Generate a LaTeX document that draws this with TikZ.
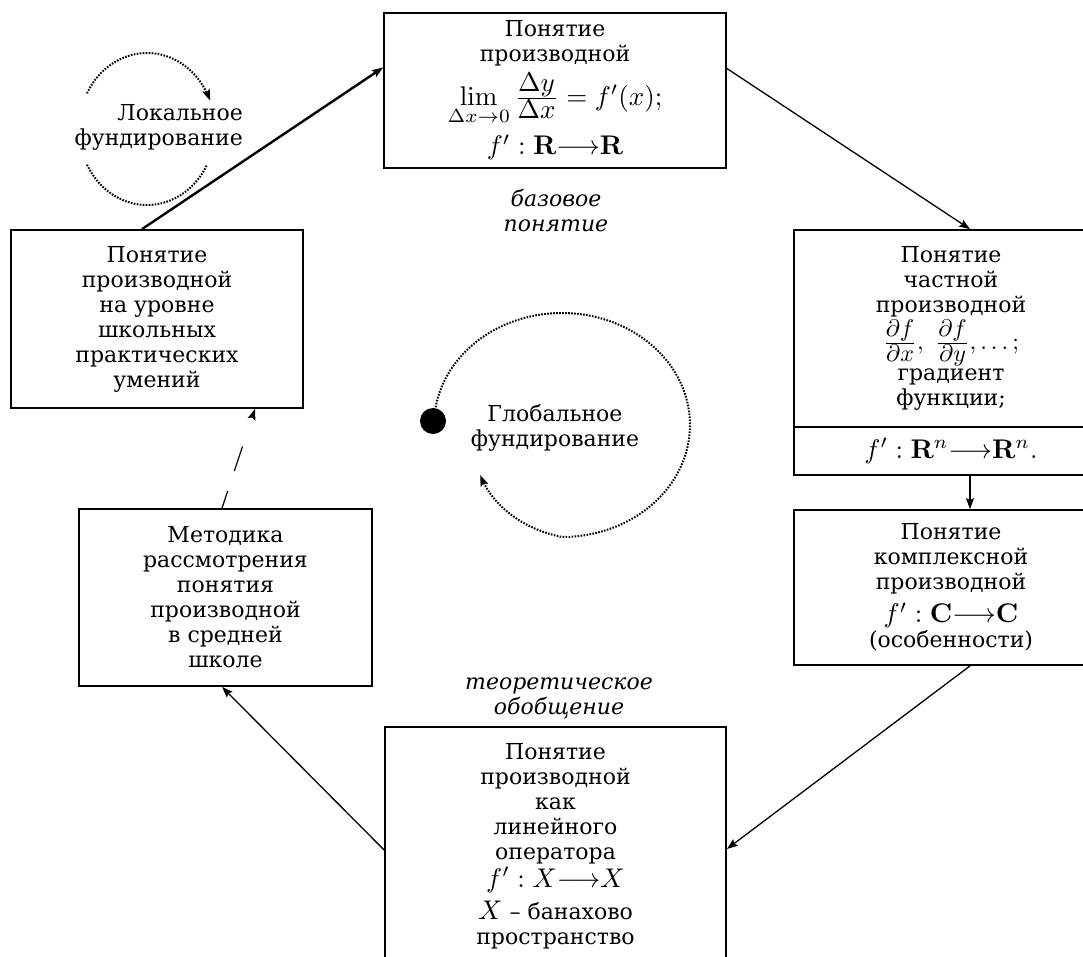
\RequirePackage{fix-cm}
\documentclass[tikz,border=0pt]{standalone}
\usepackage{amsmath}
\usepackage{graphicx}
\usepackage[no-math]{fontspec}
\setmainfont{DejaVu Serif}
\usetikzlibrary{arrows.meta}
\newcommand{\boxfont}{\fontsize{22}{25}\selectfont}
\newcommand{\mth}[2][2.7]{{\fontsize{10}{12}\selectfont\scalebox{#1}{$#2$}}}
\begin{document}
\begin{tikzpicture}[x=1pt,y=-1pt,
  box/.style={draw, line width=1.8pt, rectangle, align=center, inner sep=0pt, font=\boxfont},
  tip/.style={-{Stealth[length=11pt,width=8pt,inset=2pt]}},
  conn/.style={line width=1.3pt, tip},
  dots/.style={line width=2pt, dash pattern=on 1.6pt off 1.4pt},
  lbl/.style={font=\boxfont, align=center, inner sep=0pt}
]
\useasboundingbox (0,0) rectangle (1083,956);
\clip (0,0) rectangle (1083,956);

% boxes
\node[box, minimum width=342pt, minimum height=155pt] (b1) at (555,90.5)
  {Понятие\\производной\\[6pt]\mth{\lim\limits_{\Delta x\to0}\tfrac{\displaystyle\Delta y}{\displaystyle\Delta x}=f'(x);}\\[8pt]\mth{f':\mathbf{R}{\longrightarrow}\mathbf{R}}};
\node[box, minimum width=292pt, minimum height=178pt] (b2) at (157,319)
  {Понятие\\производной\\на уровне\\школьных\\практических\\умений};
\node[box, minimum width=314pt, minimum height=197pt] (b3a) at (951,328.5)
  {Понятие\\частной\\производной\\[2pt]\mth[2.4]{\tfrac{\displaystyle\partial f}{\displaystyle\partial x},\ \tfrac{\displaystyle\partial f}{\displaystyle\partial y},\ldots;}\\[2pt]градиент\\функции;};
\node[box, minimum width=314pt, minimum height=48pt] (b3b) at (951,451)
  {\mth{f':\mathbf{R}^n{\longrightarrow}\mathbf{R}^n.}};
\node[box, minimum width=314pt, minimum height=155pt] (b4) at (951,587.5)
  {Понятие\\комплексной\\производной\\[8pt]\mth{f':\mathbf{C}{\longrightarrow}\mathbf{C}}\\(особенности)};
\node[box, minimum width=341pt, minimum height=238pt] (b5) at (555.5,846)
  {Понятие\\производной\\как\\линейного\\оператора\\[3pt]\mth{f':X{\longrightarrow}X}\\[7pt]\mth{X} – банахово\\пространство};
\node[box, minimum width=293pt, minimum height=177pt] (b6) at (225.5,597.5)
  {Методика\\рассмотрения\\понятия\\производной\\в средней\\школе};

% labels
\node[lbl, align=right, anchor=east] (loc) at (243,127) {Локальное\\фундирование};
\node[lbl] (glob) at (555,428) {Глобальное\\фундирование};
\node[lbl, font=\boxfont\itshape] (base) at (556,211) {базовое\\понятие};
\node[lbl, font=\boxfont\itshape] (gen) at (559,698) {теоретическое\\обобщение};

% connectors
\draw[conn, line width=2.4pt] ([xshift=-15pt]b2.north) -- ([yshift=23pt]b1.west);
\draw[conn] ([yshift=22pt]b1.east) -- ([xshift=19pt]b3a.north);
\draw[conn] ([xshift=19pt]b3b.south) -- ([xshift=19pt]b4.north);
\draw[conn] ([xshift=19pt]b4.south) -- ([yshift=-3pt]b5.east);
\draw[conn] ([yshift=-4pt]b5.west) -- ([xshift=-3.5pt]b6.south);
\draw[conn, line width=1.2pt, dash pattern=on 18pt off 21pt on 26pt off 60pt] ([xshift=-3.5pt]b6.north) -- ([xshift=98pt]b2.south);

% local foundation circle
\draw[dots, tip] plot[domain=-152:-22, samples=60] ({147+68*cos(\x)},{129+76*sin(\x)});
\draw[dots] plot[domain=152:28, samples=60] ({147+68*cos(\x)},{129+76*sin(\x)});

% global foundation spiral
\node[circle, fill, minimum size=26pt, inner sep=0pt] (dot) at (433,421) {};
\draw[dots, tip] plot[domain=183:505, samples=150]
  ({562+128*(1-0.004*max(0,\x-450))*cos(\x)},{425+112*(1-0.004*max(0,\x-450))*sin(\x)});
\end{tikzpicture}
\end{document}
